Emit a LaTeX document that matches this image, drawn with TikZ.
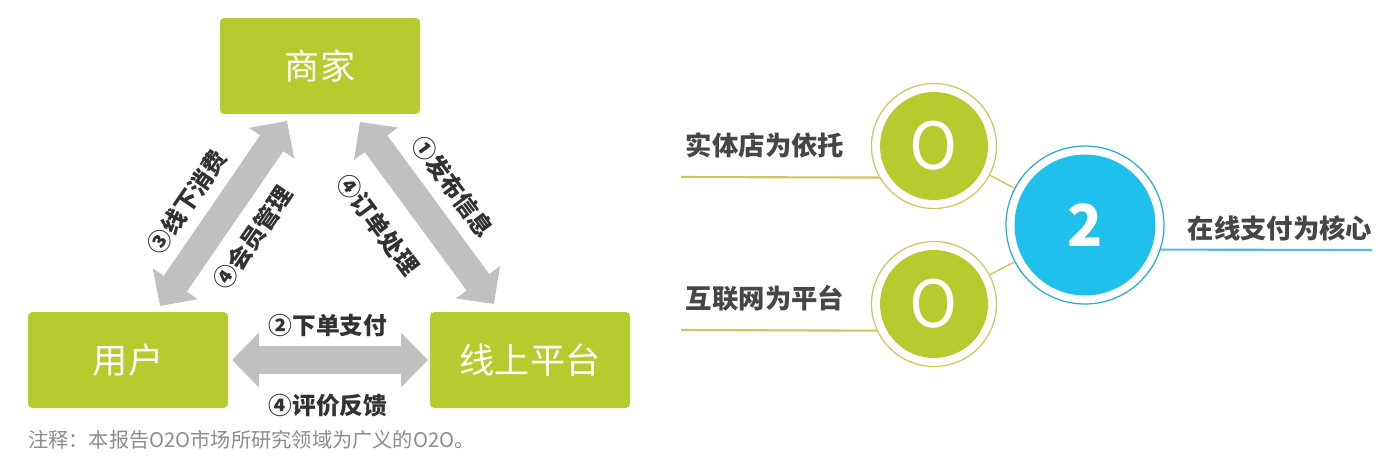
\documentclass[tikz,border=0pt]{standalone}
\usepackage{fontspec}
\usepackage{tikz}
\usetikzlibrary{arrows.meta}
\newfontfamily\cjk{Noto Sans CJK SC}
\definecolor{o2o_green}{RGB}{181,203,46}
\definecolor{o2o_blue}{RGB}{32,192,236}
\definecolor{arrow_gray}{RGB}{192,192,192}
\definecolor{text_dark}{RGB}{50,50,50}
\definecolor{text_side}{RGB}{70,70,70}
\definecolor{ring_olive}{RGB}{206,198,96}
\definecolor{ring_blue}{RGB}{40,170,215}
\definecolor{note_gray}{RGB}{140,140,140}
\tikzstyle{box_green} = [rectangle, fill=o2o_green, rounded corners=2.5pt, minimum width=4cm, minimum height=1.92cm, text=white, font=\cjk\fontsize{20}{24}\selectfont]
\tikzstyle{edge_fat} = [draw=arrow_gray, line width=0.56cm, {Triangle[length=0.54cm,width=1.06cm]}-{Triangle[length=0.54cm,width=1.06cm]}]
\tikzstyle{label_bold} = [text=text_dark, inner sep=0pt, font=\cjk\bfseries\fontsize{13.5}{16}\selectfont]
\tikzstyle{label_side} = [text=text_side, inner sep=0pt, font=\cjk\bfseries\fontsize{15}{18}\selectfont]
\tikzstyle{circle_green} = [circle, draw=ring_olive, line width=0.7pt, fill=white, minimum size=2.5cm, inner sep=0pt, path picture={\fill[o2o_green] (path picture bounding box.center) circle (1.08cm);}, text=white, font=\cjk\fontsize{37}{40}\selectfont]
\tikzstyle{circle_blue} = [circle, draw=ring_blue, line width=0.7pt, fill=white, minimum size=3.16cm, inner sep=0pt, path picture={\fill[o2o_blue] (path picture bounding box.center) circle (1.41cm);}, text=white, font=\cjk\bfseries\fontsize{33}{36}\selectfont]
\tikzstyle{line_olive} = [draw=ring_olive, line width=1.2pt]
\tikzstyle{line_blue} = [draw=ring_blue!80, line width=1.2pt]
\tikzstyle{link_olive} = [draw=ring_olive, line width=0.8pt]

\begin{document}
\begin{tikzpicture}[x=0.02cm, y=-0.02cm]
			\useasboundingbox[fill=white] (0,0) rectangle (1382,468);
			% triangle of actors
			\node (shop) at (320,66) [box_green] {商家};
			\node (user) at (128,360) [box_green] {用户};
			\node (platform) at (530,360) [box_green] {线上平台};
			\coordinate (L1) at (160,306);
			\coordinate (L2) at (287,121);
			\coordinate (R1) at (360,122);
			\coordinate (R2) at (494,304);
			\coordinate (B1) at (232,360);
			\coordinate (B2) at (428,360);
			\draw[edge_fat] (L1)--(L2);
			\draw[edge_fat] (R1)--(R2);
			\draw[edge_fat] (B1)--(B2);
			\node (l3) at (187,202) [label_bold, rotate=55.5] {③线下消费};
			\node (l4a) at (253,238) [label_bold, rotate=55.5] {④会员管理};
			\node (l4b) at (378,225) [label_bold, rotate=-53.3] {④订单处理};
			\node (l1) at (453,187) [label_bold, rotate=-53.3] {①发布信息};
			\node (l2) at (328,325) [label_bold] {②下单支付};
			\node (l4c) at (328,406) [label_bold] {④评价反馈};
			\node (note) at (28,440) [anchor=west, inner sep=0pt, text=note_gray, font=\cjk\fontsize{11.5}{14}\selectfont] {注释：本报告O2O市场所研究领域为广义的O2O。};
			% O2O circles
			\node (O1) at (934,146) [circle_green] {O};
			\node (O2) at (934,304) [circle_green] {O};
			\node (two) at (1085,225) [circle_blue] {2};
			\draw[link_olive] (O1)--(two) (O2)--(two);
			\coordinate (T1) at (681,177);
			\coordinate (T2) at (681,330);
			\coordinate (T3) at (1372,250);
			\draw[line_olive] (T1)--(O1.210) (T2)--(O2.205);
			\draw[line_blue] (two.-18)--(T3);
			\node (s1) at (765,145) [label_side] {实体店为依托};
			\node (s2) at (765,298) [label_side] {互联网为平台};
			\node (s3) at (1280,228) [label_side] {在线支付为核心};
		\end{tikzpicture}
\end{document}
